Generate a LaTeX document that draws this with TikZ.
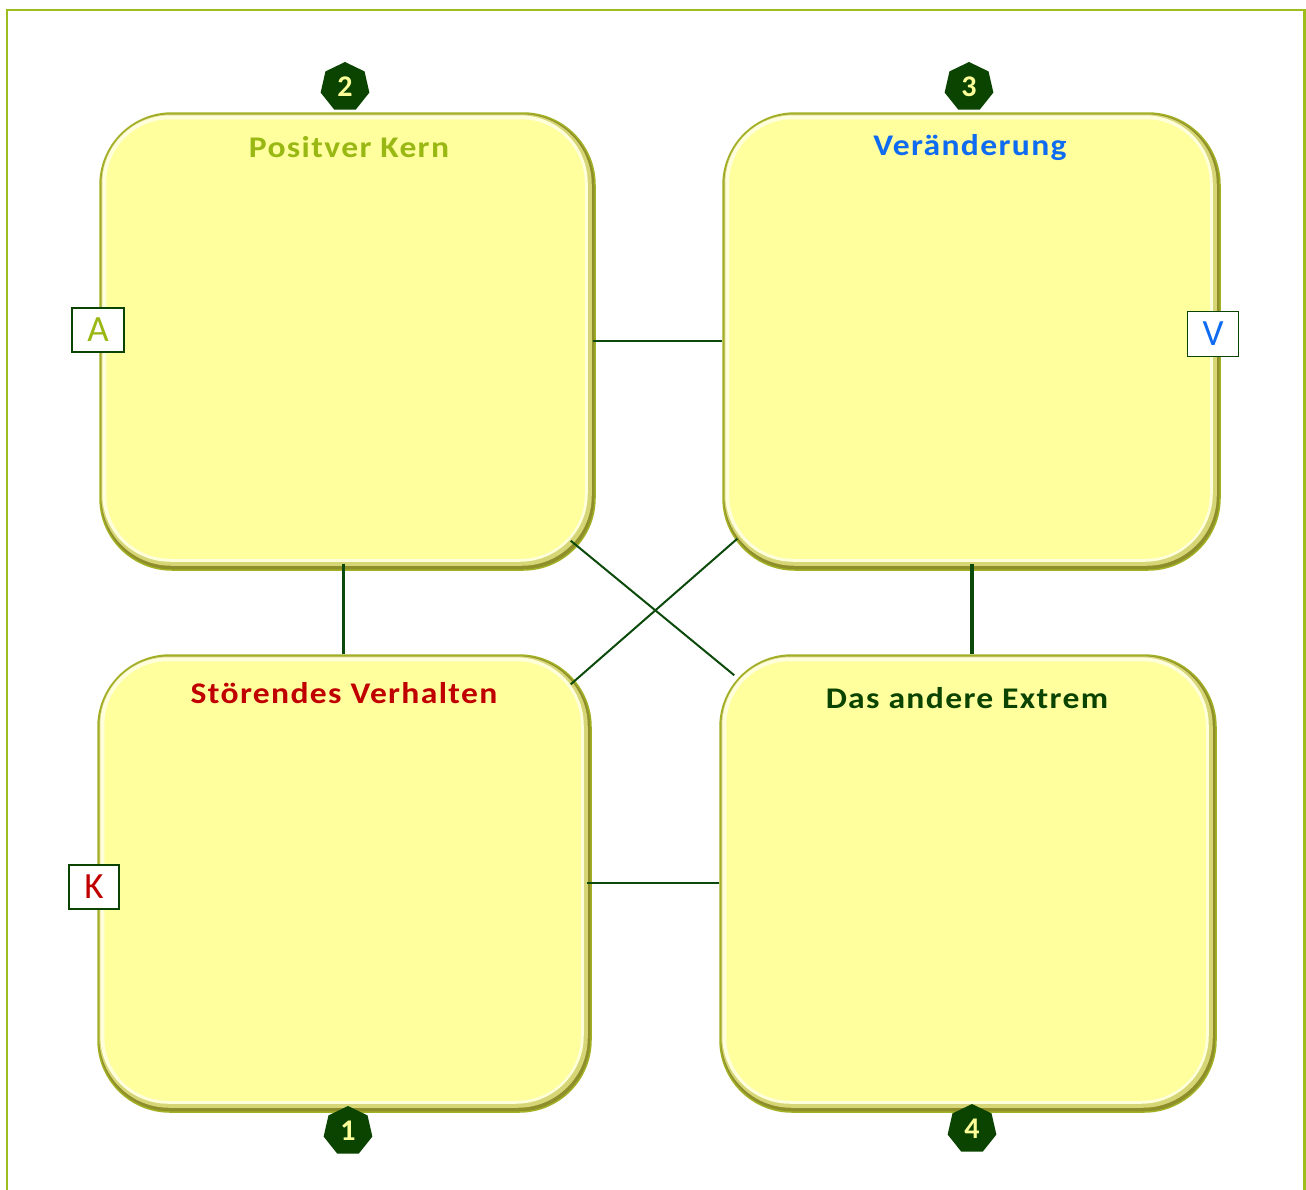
\documentclass[tikz,border=0pt]{standalone}
\usepackage{fontspec}
\setmainfont{Carlito}
\newfontfamily\titlefont[LetterSpace=4]{Carlito}
\usetikzlibrary{calc,shapes.geometric}
\definecolor{frameGreen}{HTML}{9DBD1C}
\definecolor{kernGreen}{HTML}{9AB813}
\definecolor{changeBlue}{HTML}{0F6BF0}
\definecolor{troubleRed}{HTML}{C00000}
\definecolor{deepGreen}{HTML}{0A4400}
\definecolor{lineGreen}{HTML}{0B4A0B}
\definecolor{paper}{HTML}{FFFF9E}
\definecolor{paperLight}{HTML}{FFFFDC}
\definecolor{paperMid}{HTML}{D6D676}
\definecolor{paperDark}{HTML}{8E8E2A}
\definecolor{rimOlive}{HTML}{A2B024}
\definecolor{digitYellow}{HTML}{FFFF99}
\tikzset{
  card/.style={draw=rimOlive, line width=1.5pt, fill=paperDark,
    rounded corners=72pt, inner sep=0pt},
  cardtitle/.style={font=\titlefont\fontsize{30}{32}\selectfont\bfseries,
    inner sep=0pt, xscale=1.12, transform shape},
  badge/.style={regular polygon, regular polygon sides=7, fill=deepGreen,
    minimum size=50pt, inner sep=0pt, text=digitYellow,
    font=\fontsize{30}{32}\selectfont\bfseries},
  tag/.style={draw=deepGreen, line width=1.6pt, fill=white, inner sep=0pt,
    font=\fontsize{37}{39}\selectfont},
  thinlink/.style={draw=lineGreen, line width=2pt},
  thicklink/.style={draw=lineGreen, line width=3.5pt},
}
% bevelled card: dark rim, light edge, then the flat face
\newcommand\cardface[1]{%
  \fill[paperMid, rounded corners=70pt] ($(#1.north west)+(2,2)$) rectangle ($(#1.south east)+(-4,-5)$);
  \fill[paperLight, rounded corners=68pt] ($(#1.north west)+(3,3)$) rectangle ($(#1.south east)+(-8,-9)$);
  \fill[paper, rounded corners=64pt] ($(#1.north west)+(7,7)$) rectangle ($(#1.south east)+(-11,-12)$);
}
\begin{document}
\begin{tikzpicture}[x=1pt, y=-1pt]
\useasboundingbox (0,0) rectangle (1306,1189);
\fill[white] (0,0) rectangle (1306,1189);
% outer frame
\draw[frameGreen, line width=2.5pt] (7,1195) -- (7,10) -- (1304.5,10) -- (1304.5,1195);

% cards
\node[card, minimum width=495pt, minimum height=457pt] (tl) at (347.5,341.5) {};
\node[card, minimum width=497pt, minimum height=457pt] (tr) at (971.5,341.5) {};
\node[card, minimum width=493pt, minimum height=457pt] (bl) at (344.5,883.5) {};
\node[card, minimum width=496pt, minimum height=457pt] (br) at (968,883.5) {};
\cardface{tl}
\cardface{tr}
\cardface{bl}
\cardface{br}

% links between the cards
\draw[thinlink] ($(tl.east)+(-3,-1)$) -- ($(tr.west)+(0,-1)$);
\draw[thinlink] ($(bl.east)+(-5,-1)$) -- ($(br.west)+(0,-1)$);
\draw[thicklink] ($(tl.south)+(-4,-7)$) -- ($(tl.south |- bl.north)+(-4,0)$);
\draw[thicklink] ($(tr.south)+(0.5,-7)$) -- ($(tr.south |- br.north)+(0.5,0)$);
\draw[thinlink] ($(tl.south east)+(-25,-30)$) -- ($(br.north west)+(15,21)$);
\draw[thinlink] ($(tr.south west)+(15,-32)$) -- ($(bl.north east)+(-21,30)$);

% titles
\node[cardtitle, text=kernGreen] (t2) at (349,147) {Positver Kern};
\node[cardtitle, text=changeBlue] (t3) at (970,148) {Veränderung};
\node[cardtitle, text=troubleRed] (t1) at (344,693) {Störendes Verhalten};
\node[cardtitle, text=deepGreen] (t4) at (967,698) {Das andere Extrem};

% numbered badges
\node[badge] (b2) at (345,87) {2};
\node[badge] (b3) at (969,87) {3};
\node[badge] (b1) at (348,1131) {1};
\node[badge] (b4) at (972,1129) {4};

% letter tags on the card edges
\node[tag, minimum width=52pt, minimum height=44pt, text=kernGreen] (ta) at (98,330) {A};
\node[tag, minimum width=51pt, minimum height=45pt, text=changeBlue] (tv) at (1213,334) {V};
\node[tag, minimum width=50pt, minimum height=44pt, text=troubleRed] (tk) at (94,887) {K};
\end{tikzpicture}
\end{document}
